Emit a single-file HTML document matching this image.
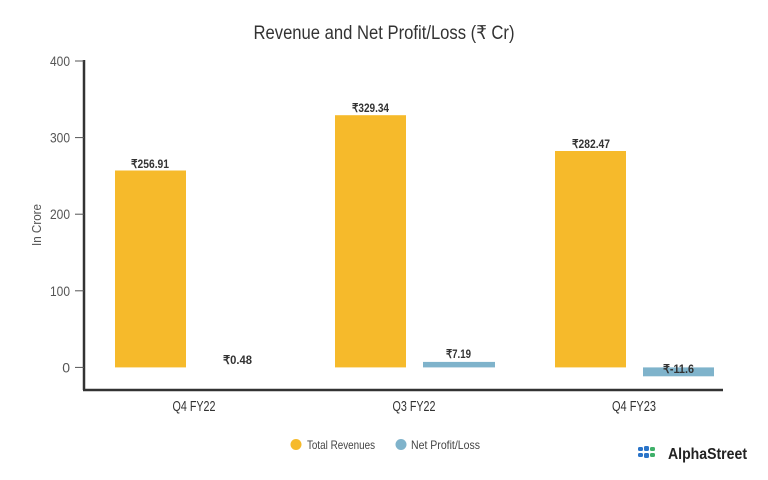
<!DOCTYPE html>
<html><head><meta charset="utf-8"><style>
html,body{margin:0;padding:0;background:#fff;}
svg{display:block;}
text{font-family:"Liberation Sans",sans-serif;}
</style></head><body>
<svg width="768" height="480" viewBox="0 0 768 480" xmlns="http://www.w3.org/2000/svg">
<rect width="768" height="480" fill="#fff"/>
<text x="384" y="39" text-anchor="middle" font-size="19" fill="#333" textLength="261" lengthAdjust="spacingAndGlyphs">Revenue and Net Profit/Loss (₹ Cr)</text>
<!-- y axis -->
<line x1="84" y1="60" x2="84" y2="390" stroke="#333" stroke-width="2.5"/>
<line x1="83" y1="390" x2="723" y2="390" stroke="#333" stroke-width="2.5"/>
<g stroke="#555" stroke-width="1">
<line x1="75" y1="61" x2="84" y2="61"/>
<line x1="75" y1="137.6" x2="84" y2="137.6"/>
<line x1="75" y1="214.2" x2="84" y2="214.2"/>
<line x1="75" y1="290.8" x2="84" y2="290.8"/>
<line x1="75" y1="367.4" x2="84" y2="367.4"/>
</g>
<g font-size="14" fill="#555" text-anchor="end">
<text x="70" y="66" textLength="20" lengthAdjust="spacingAndGlyphs">400</text>
<text x="70" y="142.6" textLength="20" lengthAdjust="spacingAndGlyphs">300</text>
<text x="70" y="219.2" textLength="20" lengthAdjust="spacingAndGlyphs">200</text>
<text x="70" y="295.8" textLength="20" lengthAdjust="spacingAndGlyphs">100</text>
<text x="70" y="372.4">0</text>
</g>
<text transform="translate(41,225) rotate(-90)" text-anchor="middle" font-size="13" fill="#555" textLength="42" lengthAdjust="spacingAndGlyphs">In Crore</text>
<!-- bars -->
<g fill="#F6BA2B">
<rect x="115" y="170.5" width="71" height="196.9"/>
<rect x="335" y="115.2" width="71" height="252.2"/>
<rect x="555" y="151" width="71" height="216.4"/>
</g>
<g fill="#7FB3CB">
<rect x="423" y="361.9" width="72" height="5.5"/>
<rect x="643" y="367.4" width="71" height="8.9"/>
</g>
<g font-size="12" font-weight="bold" fill="#333" text-anchor="middle">
<text x="150" y="168" textLength="38" lengthAdjust="spacingAndGlyphs">₹256.91</text>
<text x="370.5" y="112" textLength="37" lengthAdjust="spacingAndGlyphs">₹329.34</text>
<text x="591" y="148" textLength="38" lengthAdjust="spacingAndGlyphs">₹282.47</text>
<text x="237.5" y="364" textLength="29" lengthAdjust="spacingAndGlyphs">₹0.48</text>
<text x="458.5" y="358" textLength="25" lengthAdjust="spacingAndGlyphs">₹7.19</text>
<text x="678.5" y="373" textLength="31" lengthAdjust="spacingAndGlyphs">₹-11.6</text>
</g>
<g font-size="15" fill="#333" text-anchor="middle">
<text x="194" y="411" textLength="43" lengthAdjust="spacingAndGlyphs">Q4 FY22</text>
<text x="414" y="411" textLength="43" lengthAdjust="spacingAndGlyphs">Q3 FY22</text>
<text x="634" y="411" textLength="44" lengthAdjust="spacingAndGlyphs">Q4 FY23</text>
</g>
<!-- legend -->
<circle cx="296" cy="444.5" r="5.5" fill="#F6BA2B"/>
<text x="307" y="449" font-size="12" fill="#444" textLength="68" lengthAdjust="spacingAndGlyphs">Total Revenues</text>
<circle cx="401" cy="444.5" r="5.5" fill="#7FB3CB"/>
<text x="411" y="449" font-size="12" fill="#444" textLength="69" lengthAdjust="spacingAndGlyphs">Net Profit/Loss</text>
<!-- logo -->
<g>
<rect x="638" y="447" width="5" height="4" rx="1.5" fill="#2A74C9"/>
<rect x="644" y="446" width="5" height="5" rx="1.5" fill="#2A74C9"/>
<rect x="638" y="453" width="5" height="4" rx="1.5" fill="#2A74C9"/>
<rect x="644" y="453" width="5" height="5" rx="1.5" fill="#2A74C9"/>
<rect x="650" y="447" width="5" height="4" rx="1.5" fill="#3FB06A"/>
<rect x="650" y="453" width="5" height="4" rx="1.5" fill="#3FB06A"/>
</g>
<text x="668" y="459" font-size="16" font-weight="bold" fill="#222" textLength="79" lengthAdjust="spacingAndGlyphs">AlphaStreet</text>
</svg>
</body></html>
